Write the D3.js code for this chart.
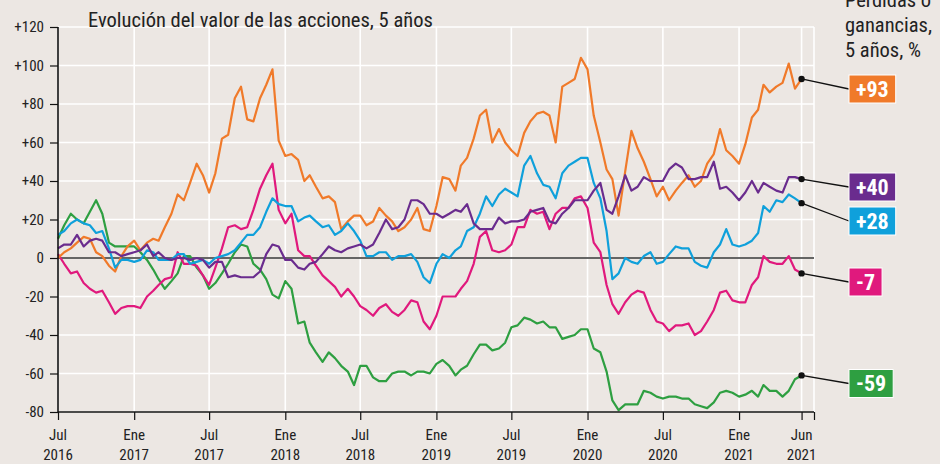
<!DOCTYPE html>
<html>
<head>
<meta charset="utf-8">
<script src="https://cdn.jsdelivr.net/npm/d3@7"></script>
<style>
  html, body { margin: 0; padding: 0; background: #ece7e3; }
  svg { display: block; }
  text { font-family: 'Liberation Sans Narrow', 'Roboto Condensed', 'DejaVu Sans Condensed', 'Arial Narrow', sans-serif; }
</style>
</head>
<body>
<div id="chart"></div>
<script>
// ---------- DATA ----------
// Half-monthly observations (1st and 16th of each month), Jul 2016 → Jun 2021, % change
const startYear = 2016, startMonth = 6; // July 2016
const orange = [0,3,5,8,11,10,3,1,-4,-7,1,6,9,4,8,10,9,16,23,33,30,39,49,43,34,44,62,64,83,89,
  72,71,83,90,98,61,53,54,51,40,43,37,31,32,29,15,19,22,22,17,19,26,22,19,14,16,20,26,15,14,
  27,42,41,35,48,52,62,74,77,60,67,60,56,53,65,71,75,76,74,60,89,91,93,104,98,74,60,46,41,22,
  45,66,57,50,41,32,37,30,35,39,43,37,40,49,54,67,56,53,49,59,73,77,90,86,89,91,101,88,93];
const purple = [5,7,7,12,6,9,10,9,3,3,1,2,3,4,7,1,3,0,-1,0,0,-1,0,-1,-5,-2,-2,-10,-9,-10,
  -10,-10,-7,2,7,6,-1,-1,-5,-6,-3,-2,2,6,4,3,5,6,7,5,7,13,20,15,16,20,30,30,28,23,
  23,21,23,25,24,28,18,15,15,15,21,18,19,19,20,24,25,26,19,18,23,26,30,30,30,35,39,25,23,32,
  43,35,37,42,40,40,40,46,49,47,41,41,42,42,50,36,37,34,30,34,40,34,39,37,35,34,42,42,41];
const cyan = [12,14,18,20,18,17,13,14,5,-5,-1,-1,-2,-1,4,3,-1,-1,-1,2,2,-3,-2,-1,-3,0,1,2,4,8,
  12,12,16,24,31,28,27,27,19,21,22,19,16,17,12,14,18,14,9,1,1,3,3,-1,1,1,2,-2,-10,-13,
  -3,2,0,4,6,14,16,23,32,27,33,36,34,32,48,53,44,38,37,31,44,48,50,52,52,39,31,14,-11,-8,
  0,-2,-3,1,3,-3,-2,2,6,5,5,-2,-4,-5,3,7,15,7,6,7,9,13,27,24,30,29,33,31,28.5];
const pink = [2,-3,-8,-7,-13,-16,-18,-17,-23,-29,-26,-25,-25,-26,-20,-17,-14,-11,-10,3,-3,-3,-4,-9,-14,-5,5,16,17,15,
  16,25,36,43,49,25,18,23,4,1,1,-4,-9,-12,-15,-20,-16,-20,-25,-27,-30,-26,-24,-28,-30,-27,-22,-23,-33,-37,
  -30,-20,-20,-20,-16,-12,-3,11,14,4,3,4,7,16,16,25,23,24,15,23,26,26,31,32,26,8,3,-14,-24,-29,
  -23,-19,-17,-18,-27,-33,-34,-38,-35,-35,-34,-40,-38,-33,-27,-18,-17,-22,-23,-23,-14,-10,1,-2,-3,-3,1,-6,-8];
const green = [10,17,23,20,18,24,30,23,8,6,6,6,6,3,-1,-6,-11,-16,-12,-8,1,1,-5,-9,-16,-13,-8,-3,3,7,
  6,-3,-6,-11,-19,-21,-12,-16,-34,-33,-44,-49,-54,-49,-52,-56,-59,-66,-56,-56,-62,-64,-64,-60,-59,-59,-61,-59,-59,-60,
  -55,-53,-56,-61,-58,-56,-50,-45,-45,-48,-47,-44,-36,-35,-31,-32,-34,-33,-36,-36,-42,-41,-40,-37,-37,-47,-49,-59,-74,-79,
  -76,-76,-76,-69,-70,-72,-73,-72,-72,-73,-73,-76,-77,-78,-75,-70,-69,-70,-72,-71,-69,-72,-66,-69,-69,-72,-69,-63,-61];

const seriesColors = ["#f07a2a", "#6a2c8e", "#0fa0db", "#e0197d", "#2e9f41"];
const endLabels = ["+93", "+40", "+28", "-7", "-59"];
const yTicks = [120, 100, 80, 60, 40, 20, 0, -20, -40, -60, -80];
const xTickDates = ["2016-07-01","2017-01-01","2017-07-01","2018-01-01","2018-07-01","2019-01-01","2019-07-01","2020-01-01","2020-07-01","2021-01-01","2021-06-01"];
const xTickMonths = ["Jul","Ene","Jul","Ene","Jul","Ene","Jul","Ene","Jul","Ene","Jun"];
const xTickYears = ["2016","2017","2017","2018","2018","2019","2019","2020","2020","2021","2021"];
const title = "Evolución del valor de las acciones, 5 años";
const sideTitle = ["Pérdidas o", "ganancias,", "5 años, %"];

// ---------- CHART ----------
const W = 940, H = 464;
const svg = d3.select("#chart").append("svg").attr("width", W).attr("height", H);
svg.append("rect").attr("width", W).attr("height", H).attr("fill", "#ece7e3");

const x = d3.scaleTime().domain([new Date(2016, 6, 1), new Date(2021, 6, 1)]).range([58, 814]);
const y = d3.scaleLinear().domain([-80, 120]).range([412, 27]);

const dateOf = i => new Date(startYear, startMonth + Math.floor(i / 2), i % 2 ? 16 : 1);
const parse = d3.timeParse("%Y-%m-%d");
const tickDates = xTickDates.map(parse);
const gridDates = tickDates.concat([x.domain()[1]]);

// grid
const g = svg.append("g");
g.selectAll(".hg").data(yTicks).join("line")
  .attr("x1", 58).attr("x2", 814).attr("y1", d => y(d)).attr("y2", d => y(d))
  .attr("stroke", "#ffffff").attr("stroke-width", 1.6);
g.selectAll(".vg").data(gridDates).join("line")
  .attr("x1", d => x(d)).attr("x2", d => x(d)).attr("y1", y(120)).attr("y2", y(-80))
  .attr("stroke", "#ffffff").attr("stroke-width", 1.6);

// zero line
svg.append("line").attr("x1", 58).attr("x2", 814).attr("y1", y(0)).attr("y2", y(0))
  .attr("stroke", "#333").attr("stroke-width", 1.5);

// series lines
const allSeries = [orange, purple, cyan, pink, green];
const line = d3.line().x((d, i) => x(dateOf(i))).y(d => y(d));
const order = [4, 3, 0, 2, 1];
order.forEach(k => {
  svg.append("path").datum(allSeries[k]).attr("d", line)
    .attr("fill", "none").attr("stroke", seriesColors[k]).attr("stroke-width", 2.2)
    .attr("stroke-linejoin", "round");
});

// y axis
const yAxis = d3.axisLeft(y).tickValues(yTicks).tickSize(8).tickPadding(6)
  .tickFormat(d => d > 0 ? "+" + d : String(d));
const ya = svg.append("g").attr("transform", "translate(58,0)").call(yAxis);
ya.select(".domain").attr("stroke", "#111").attr("stroke-width", 1.6).attr("d", `M0,${y(120)}V${y(-80)}`);
ya.selectAll(".tick line").attr("stroke", "#111").attr("stroke-width", 1.2);
ya.selectAll(".tick text").attr("font-size", 15).attr("fill", "#222");

// x axis
const xAxis = d3.axisBottom(x).tickValues(gridDates).tickSize(8).tickFormat("");
const xa = svg.append("g").attr("transform", `translate(0,${y(-80)})`).call(xAxis);
xa.select(".domain").attr("stroke", "#111").attr("stroke-width", 1.6).attr("d", `M58,0H814`);
xa.selectAll(".tick line").attr("stroke", "#111").attr("stroke-width", 1.2);
const xl = svg.append("g");
xl.selectAll(".m").data(tickDates).join("text")
  .attr("x", d => x(d)).attr("y", 440).attr("text-anchor", "middle")
  .attr("font-size", 15).attr("fill", "#222").text((d, i) => xTickMonths[i]);
xl.selectAll(".yr").data(tickDates).join("text")
  .attr("x", d => x(d)).attr("y", 460).attr("text-anchor", "middle")
  .attr("font-size", 15).attr("fill", "#222").text((d, i) => xTickYears[i]);

// titles
svg.append("text").attr("x", 88).attr("y", 27).attr("font-size", 20.5).attr("fill", "#222").text(title);
svg.append("g").selectAll("text").data(sideTitle).join("text")
  .attr("x", 845).attr("y", (d, i) => 7 + i * 25).attr("font-size", 20.5).attr("fill", "#222").text(d => d);

// end labels
const boxY = [89, 187, 221, 282, 383.5]; // box vertical centres (px)
const lastIdx = orange.length - 1;
allSeries.forEach((s, k) => {
  const ex = x(dateOf(lastIdx)), ey = y(s[lastIdx]);
  const by = boxY[k];
  svg.append("line").attr("x1", ex).attr("y1", ey).attr("x2", 849).attr("y2", by)
    .attr("stroke", "#111").attr("stroke-width", 1.3);
  svg.append("circle").attr("cx", ex).attr("cy", ey).attr("r", 3.2).attr("fill", "#111");
  const lg = svg.append("g");
  const rect = lg.append("rect")
    .attr("x", 849).attr("y", by - 14).attr("height", 28)
    .attr("fill", seriesColors[k]).attr("stroke", "#fff").attr("stroke-width", 1);
  const t = lg.append("text").attr("x", 849 + 7).attr("y", by + 7.5)
    .attr("font-size", 22).attr("font-weight", "bold").attr("fill", "#fff").text(endLabels[k]);
  const w = t.node().getComputedTextLength();
  rect.attr("width", w + 14);
});
</script>
</body>
</html>
